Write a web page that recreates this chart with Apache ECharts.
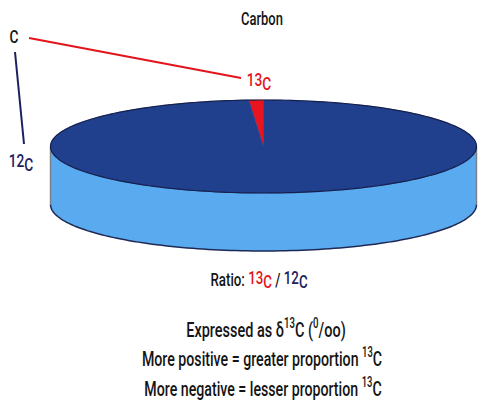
<!DOCTYPE html>
<html>
<head>
<meta charset="utf-8">
<script src="https://cdn.jsdelivr.net/npm/echarts@6/dist/echarts.min.js"></script>
<style>
  html, body { margin: 0; padding: 0; background: #ffffff; }
  #chart { width: 478px; height: 402px; }
</style>
</head>
<body>
<div id="chart"></div>
<script>
// Isotope shares of carbon (percent)
const isotopes = ['13C', '12C'];
const abundance = [1.1, 98.9];
const topColors = ['#e8141e', '#203f8d'];
const sideColors = ['#b8121a', '#5aaaf0'];

// Disc layout (pixels)
const disc = { cx: 263.5, cy: 146.5, rx: 213, ry: 46.5, depth: 58 };
const FONT = 'Roboto, "Liberation Sans", sans-serif';
const WEIGHT = 500;
const NAVY = '#1b2160';
const RED = '#e3141c';
const INK = '#141414';

const total = abundance.reduce((a, b) => a + b, 0);
let running = 0;
const sliceData = abundance.map((v, i) => {
  const item = { name: isotopes[i], value: [running, v, i] };
  running += v;
  return item;
});

// angle u in degrees measured from the back (top of the ellipse), counter-clockwise on screen
function pt(u, dy) {
  const r = u * Math.PI / 180;
  return [disc.cx - disc.rx * Math.sin(r), disc.cy - disc.ry * Math.cos(r) + (dy || 0)];
}
function arc(u0, u1, dy) {
  const pts = [];
  const n = Math.max(2, Math.ceil(Math.abs(u1 - u0) / 1.5));
  for (let k = 0; k <= n; k++) pts.push(pt(u0 + (u1 - u0) * k / n, dy));
  return pts;
}
function sliceRange(api) {
  const start = api.value(0), val = api.value(1);
  return [start / total * 360, (start + val) / total * 360];
}

function renderSide(params, api) {
  const [u0, u1] = sliceRange(api);
  const idx = api.value(2);
  const a = Math.max(u0, 90), b = Math.min(u1, 270);
  if (b <= a) return { type: 'group', children: [] };
  const top = arc(a, b, 0);
  const bottom = arc(b, a, disc.depth);
  return {
    type: 'group',
    children: [
      { type: 'polygon', shape: { points: top.concat(bottom) },
        style: { fill: sideColors[idx], stroke: 'none' } },
      { type: 'polyline', shape: { points: arc(a, b, disc.depth) },
        style: { fill: 'none', stroke: '#1e2a55', lineWidth: 1.5 } },
      { type: 'line', shape: { x1: pt(a)[0], y1: pt(a)[1], x2: pt(a)[0], y2: pt(a)[1] + disc.depth },
        style: { stroke: a === 90 ? '#7a7f88' : 'none', lineWidth: 1.4 } },
      { type: 'line', shape: { x1: pt(b)[0], y1: pt(b)[1], x2: pt(b)[0], y2: pt(b)[1] + disc.depth },
        style: { stroke: b === 270 ? '#7a7f88' : 'none', lineWidth: 1.4 } }
    ]
  };
}

function renderTop(params, api) {
  const [u0, u1] = sliceRange(api);
  const idx = api.value(2);
  const edge = arc(u0, u1, 0);
  return {
    type: 'group',
    children: [
      { type: 'polygon', shape: { points: [[disc.cx, disc.cy]].concat(edge) },
        style: { fill: topColors[idx], stroke: topColors[idx], lineWidth: 0.5 } },
      { type: 'polyline', shape: { points: edge },
        style: { fill: 'none', stroke: '#16204d', lineWidth: 1.2 } }
    ]
  };
}

// Text block, narrowed horizontally around its centre
function txt(x, y, text, rich, size, sx) {
  return {
    type: 'text', x: x, y: y, scaleX: sx, scaleY: 1,
    style: {
      text: text, rich: rich || {}, fontFamily: FONT, fontSize: size, fontWeight: WEIGHT,
      fill: INK, align: 'center', verticalAlign: 'middle'
    }
  };
}
function tok(color, size, pad) {
  return { fontSize: size, fontFamily: FONT, fontWeight: WEIGHT, fill: color, padding: pad || 0 };
}
function iso(color, size, shift) {
  return { n: tok(color, size, [0, 0, shift, 0]), c: tok(color, size, [shift, 0, 0, 0]) };
}

const base = tok(INK, 21);
const supStyle = tok(INK, 14, [0, 0, 11, 0]);

const chart = echarts.init(document.getElementById('chart'), null, { renderer: 'svg' });
chart.setOption({
  backgroundColor: '#ffffff',
  animation: false,
  series: [
    { type: 'custom', coordinateSystem: 'none', renderItem: renderSide, data: sliceData, z: 1, silent: true },
    { type: 'custom', coordinateSystem: 'none', renderItem: renderTop, data: sliceData, z: 2, silent: true }
  ],
  graphic: [
    txt(262, 19, 'Carbon', {}, 18, 0.72),
    txt(14, 37, 'C', {}, 19, 0.72),
    { type: 'line', shape: { x1: 29, y1: 38, x2: 241, y2: 78 }, style: { stroke: RED, lineWidth: 2 } },
    { type: 'line', shape: { x1: 15, y1: 52, x2: 24, y2: 144 }, style: { stroke: NAVY, lineWidth: 2 } },
    txt(259, 82, '{n|13}{c|C}', iso(RED, 19, 4), 19, 0.72),
    txt(21, 163, '{n|12}{c|C}', iso(NAVY, 19, 4), 19, 0.72),
    txt(259, 280, '{k|Ratio: }{n|13}{c|C}{k| / }{m|12}{d|C}', Object.assign({
      k: tok(INK, 19)
    }, iso(RED, 19, 4), {
      m: tok(NAVY, 19, [0, 0, 4, 0]),
      d: tok(NAVY, 19, [4, 0, 0, 0])
    }), 19, 0.7),
    txt(266, 329, '{t|Expressed as δ}{s|13}{t|C (}{s|0}{t|/oo)}', { t: base, s: supStyle }, 21, 0.69),
    txt(262, 358, '{t|More positive = greater proportion }{s|13}{t|C}', { t: base, s: supStyle }, 21, 0.675),
    txt(263, 388, '{t|More negative = lesser proportion }{s|13}{t|C}', { t: base, s: supStyle }, 21, 0.675)
  ]
});
</script>
</body>
</html>
